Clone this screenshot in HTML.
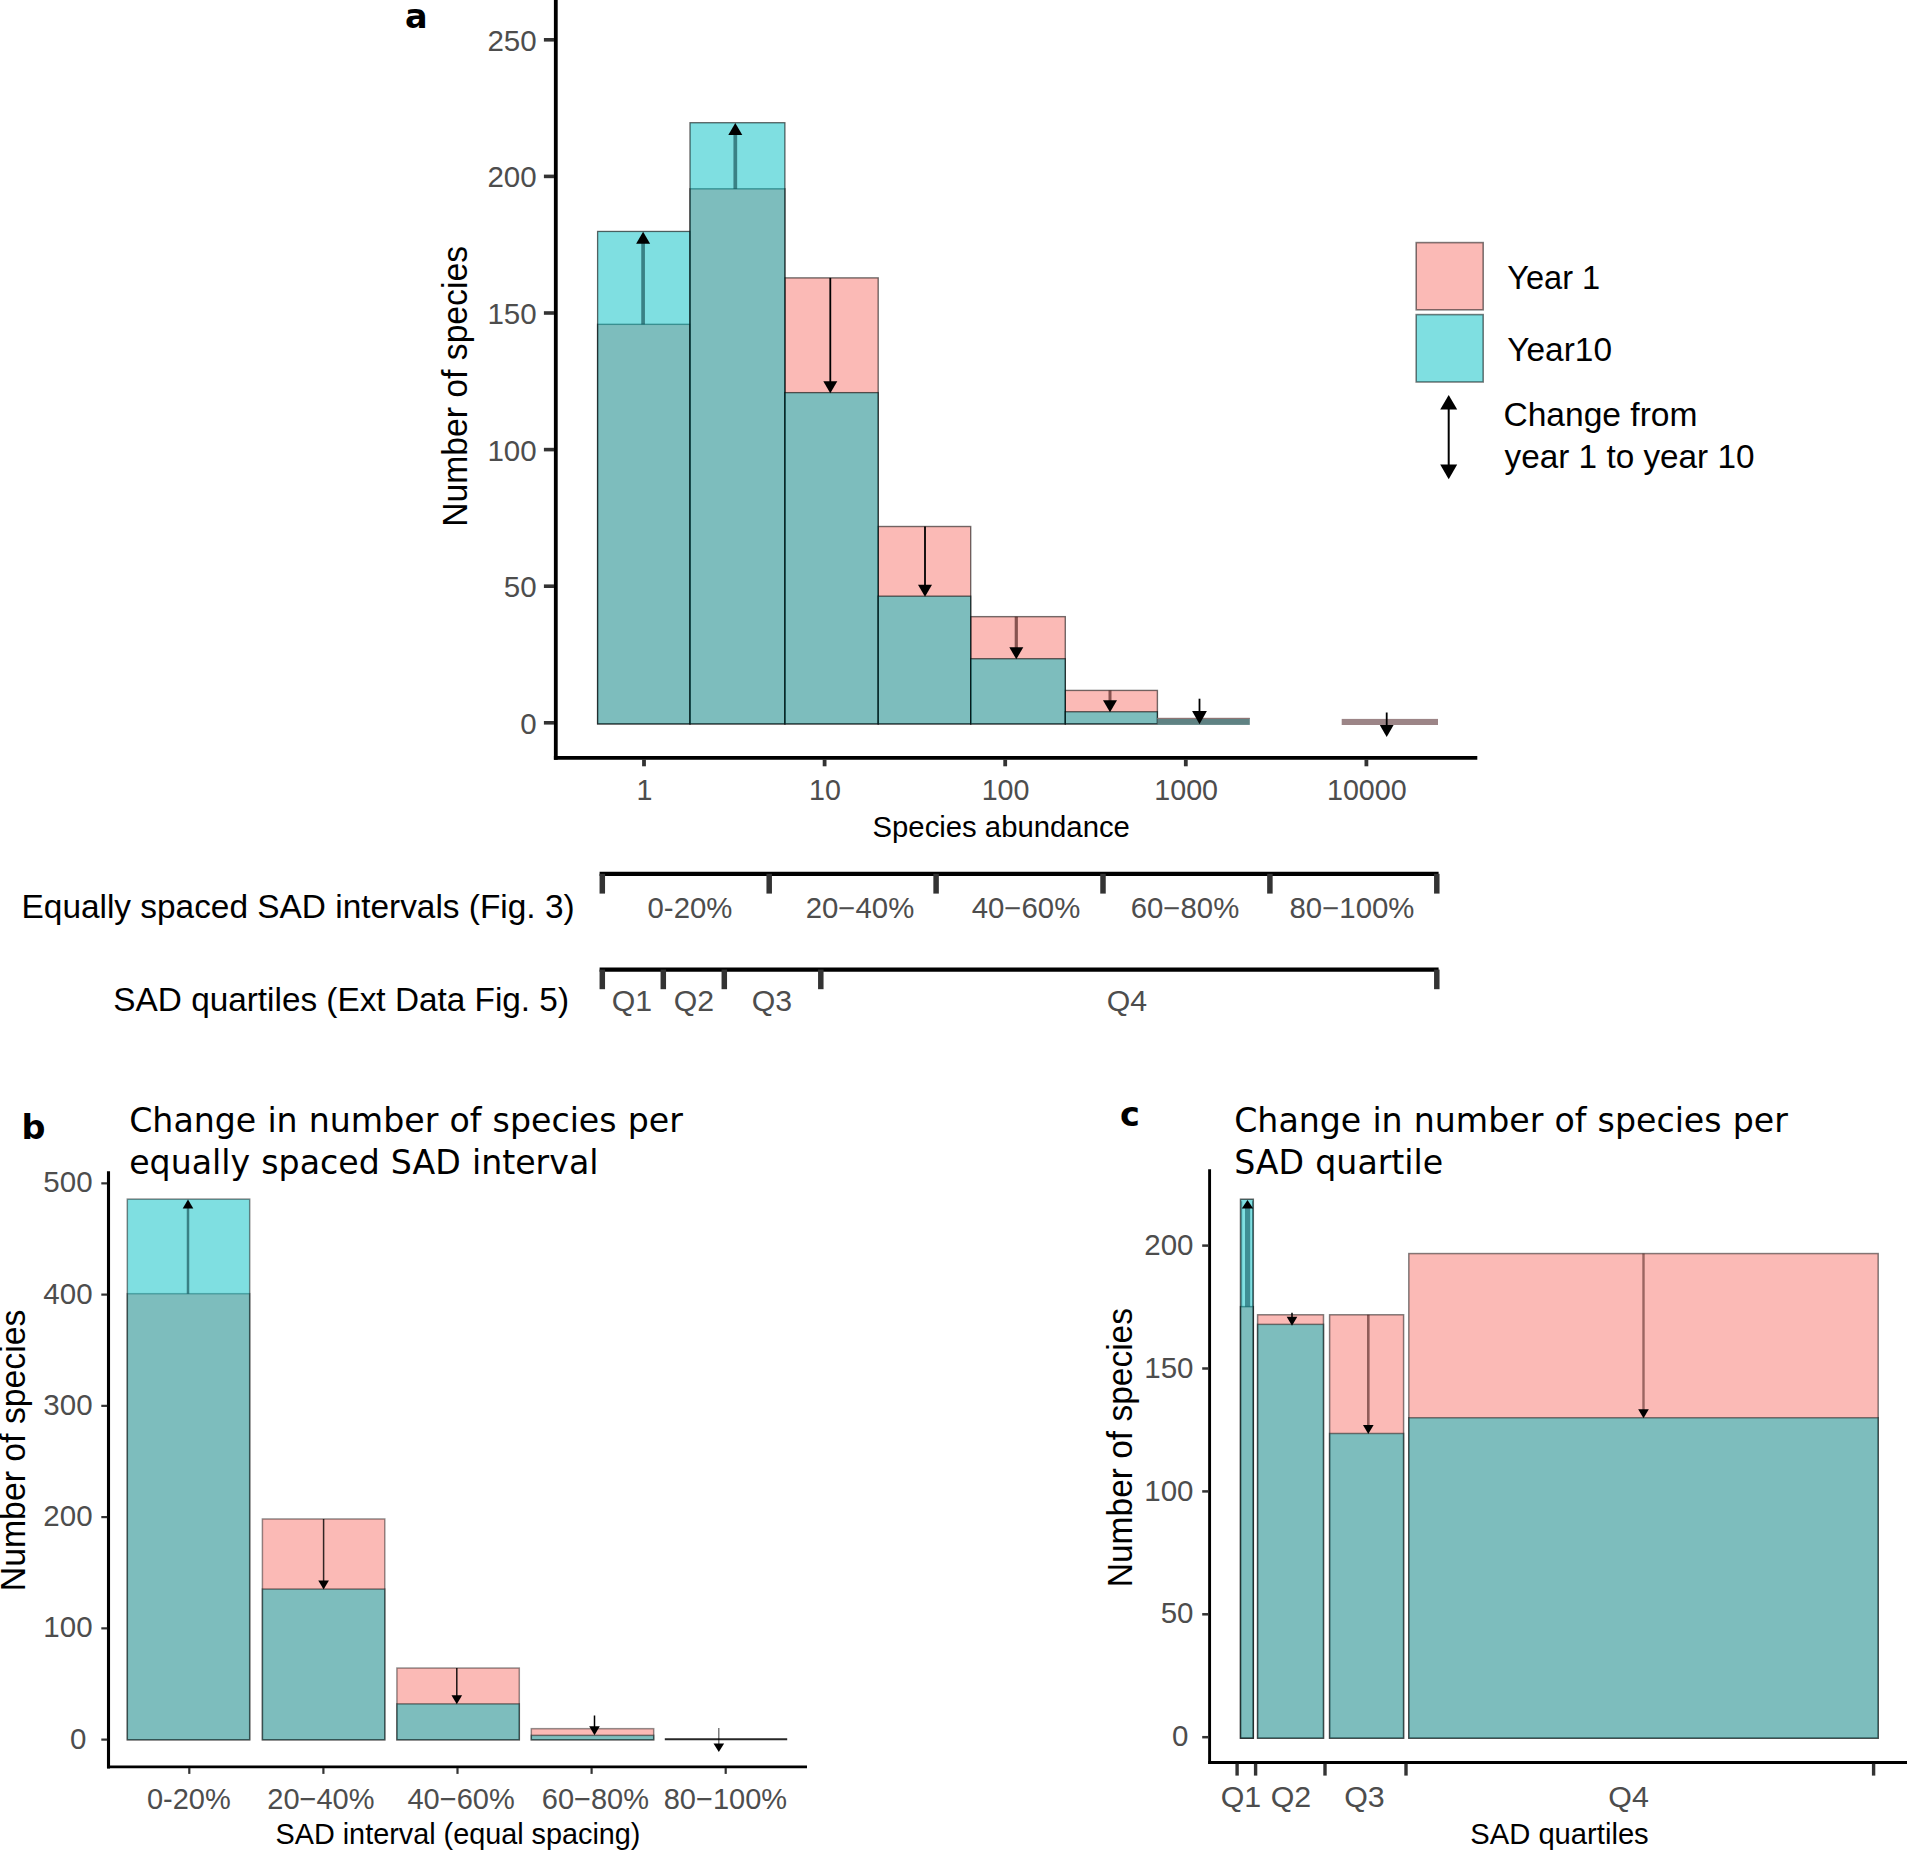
<!DOCTYPE html>
<html lang="en"><head><meta charset="utf-8"><title>Species abundance distribution change</title>
<style>html,body{margin:0;padding:0;background:#fff;}body{width:1921px;height:1850px;overflow:hidden;}svg{display:block;}text{white-space:pre;}</style>
</head><body>
<svg width="1921" height="1850" viewBox="0 0 1921 1850">
<rect x="0" y="0" width="1921" height="1850" fill="#ffffff"/>
<g id="panel-a">
<rect x="597.60" y="324.33" width="92.40" height="399.57" fill="#F8766D" fill-opacity="0.5" stroke="#000" stroke-opacity="0.55" stroke-width="1.4"/>
<rect x="690.00" y="188.82" width="94.90" height="535.08" fill="#F8766D" fill-opacity="0.5" stroke="#000" stroke-opacity="0.55" stroke-width="1.4"/>
<rect x="784.90" y="277.88" width="93.30" height="446.02" fill="#F8766D" fill-opacity="0.5" stroke="#000" stroke-opacity="0.55" stroke-width="1.4"/>
<rect x="878.20" y="526.50" width="92.50" height="197.40" fill="#F8766D" fill-opacity="0.5" stroke="#000" stroke-opacity="0.55" stroke-width="1.4"/>
<rect x="970.70" y="616.65" width="94.60" height="107.25" fill="#F8766D" fill-opacity="0.5" stroke="#000" stroke-opacity="0.55" stroke-width="1.4"/>
<rect x="1065.30" y="690.42" width="92.10" height="33.48" fill="#F8766D" fill-opacity="0.5" stroke="#000" stroke-opacity="0.55" stroke-width="1.4"/>
<rect x="597.60" y="231.44" width="92.40" height="492.46" fill="#00BFC4" fill-opacity="0.5" stroke="#000" stroke-opacity="0.6" stroke-width="1.3"/>
<rect x="690.00" y="122.71" width="94.90" height="601.19" fill="#00BFC4" fill-opacity="0.5" stroke="#000" stroke-opacity="0.6" stroke-width="1.3"/>
<rect x="784.90" y="392.63" width="93.30" height="331.27" fill="#00BFC4" fill-opacity="0.5" stroke="#000" stroke-opacity="0.6" stroke-width="1.3"/>
<rect x="878.20" y="596.16" width="92.50" height="127.74" fill="#00BFC4" fill-opacity="0.5" stroke="#000" stroke-opacity="0.6" stroke-width="1.3"/>
<rect x="970.70" y="658.72" width="94.60" height="65.18" fill="#00BFC4" fill-opacity="0.5" stroke="#000" stroke-opacity="0.6" stroke-width="1.3"/>
<rect x="1065.30" y="711.73" width="92.10" height="12.17" fill="#00BFC4" fill-opacity="0.5" stroke="#000" stroke-opacity="0.6" stroke-width="1.3"/>
<rect x="1157.4" y="718.2" width="92.4" height="6.7" fill="#5f8283"/>
<rect x="1157.4" y="717.8" width="92.4" height="1.2" fill="#8d7474"/>
<rect x="1341.7" y="718.9" width="96.3" height="6.1" fill="#9c8587"/>
<line x1="643.10" y1="324.33" x2="643.10" y2="237.74" stroke="#00333a" stroke-width="3.7" stroke-opacity="0.55" stroke-linecap="butt"/>
<polygon points="636.10,243.74 650.10,243.74 643.10,231.74" fill="#000" fill-opacity="1.0"/>
<line x1="735.30" y1="188.82" x2="735.30" y2="129.01" stroke="#00333a" stroke-width="3.7" stroke-opacity="0.55" stroke-linecap="butt"/>
<polygon points="728.30,135.01 742.30,135.01 735.30,123.01" fill="#000" fill-opacity="1.0"/>
<line x1="830.30" y1="277.88" x2="830.30" y2="387.13" stroke="#000" stroke-width="1.8" stroke-opacity="1.0" stroke-linecap="butt"/>
<polygon points="823.30,381.13 837.30,381.13 830.30,393.13" fill="#000" fill-opacity="1.0"/>
<line x1="925.00" y1="526.50" x2="925.00" y2="590.66" stroke="#000" stroke-width="1.8" stroke-opacity="1.0" stroke-linecap="butt"/>
<polygon points="918.00,584.66 932.00,584.66 925.00,596.66" fill="#000" fill-opacity="1.0"/>
<line x1="1016.30" y1="616.65" x2="1016.30" y2="653.22" stroke="#3a0f0c" stroke-width="3.2" stroke-opacity="0.6" stroke-linecap="butt"/>
<polygon points="1009.30,647.22 1023.30,647.22 1016.30,659.22" fill="#000" fill-opacity="1.0"/>
<line x1="1110.00" y1="690.42" x2="1110.00" y2="706.23" stroke="#3a0f0c" stroke-width="3.0" stroke-opacity="0.6" stroke-linecap="butt"/>
<polygon points="1103.00,700.23 1117.00,700.23 1110.00,712.23" fill="#000" fill-opacity="1.0"/>
<line x1="1199.50" y1="698.70" x2="1199.50" y2="717.60" stroke="#000" stroke-width="1.8" stroke-opacity="1.0" stroke-linecap="butt"/>
<polygon points="1192.10,711.00 1206.90,711.00 1199.50,724.20" fill="#000" fill-opacity="1.0"/>
<line x1="1386.70" y1="712.50" x2="1386.70" y2="731.00" stroke="#000" stroke-width="1.8" stroke-opacity="1.0" stroke-linecap="butt"/>
<polygon points="1379.80,725.00 1393.60,725.00 1386.70,737.00" fill="#000" fill-opacity="1.0"/>
<line x1="555.80" y1="0.00" x2="555.80" y2="759.80" stroke="#000" stroke-width="3.8" stroke-opacity="1" stroke-linecap="butt"/>
<line x1="553.90" y1="757.90" x2="1477.30" y2="757.90" stroke="#000" stroke-width="3.8" stroke-opacity="1" stroke-linecap="butt"/>
<line x1="543.90" y1="722.80" x2="554.00" y2="722.80" stroke="#333333" stroke-width="3.6" stroke-opacity="1" stroke-linecap="butt"/>
<text x="536.70" y="733.70" font-family='"Liberation Sans", Arial, Helvetica, sans-serif' font-size="29.5" fill="#4d4d4d" text-anchor="end" font-weight="normal">0</text>
<line x1="543.90" y1="586.20" x2="554.00" y2="586.20" stroke="#333333" stroke-width="3.6" stroke-opacity="1" stroke-linecap="butt"/>
<text x="536.70" y="597.10" font-family='"Liberation Sans", Arial, Helvetica, sans-serif' font-size="29.5" fill="#4d4d4d" text-anchor="end" font-weight="normal">50</text>
<line x1="543.90" y1="449.60" x2="554.00" y2="449.60" stroke="#333333" stroke-width="3.6" stroke-opacity="1" stroke-linecap="butt"/>
<text x="536.70" y="460.50" font-family='"Liberation Sans", Arial, Helvetica, sans-serif' font-size="29.5" fill="#4d4d4d" text-anchor="end" font-weight="normal">100</text>
<line x1="543.90" y1="313.00" x2="554.00" y2="313.00" stroke="#333333" stroke-width="3.6" stroke-opacity="1" stroke-linecap="butt"/>
<text x="536.70" y="323.90" font-family='"Liberation Sans", Arial, Helvetica, sans-serif' font-size="29.5" fill="#4d4d4d" text-anchor="end" font-weight="normal">150</text>
<line x1="543.90" y1="176.40" x2="554.00" y2="176.40" stroke="#333333" stroke-width="3.6" stroke-opacity="1" stroke-linecap="butt"/>
<text x="536.70" y="187.30" font-family='"Liberation Sans", Arial, Helvetica, sans-serif' font-size="29.5" fill="#4d4d4d" text-anchor="end" font-weight="normal">200</text>
<line x1="543.90" y1="39.80" x2="554.00" y2="39.80" stroke="#333333" stroke-width="3.6" stroke-opacity="1" stroke-linecap="butt"/>
<text x="536.70" y="50.70" font-family='"Liberation Sans", Arial, Helvetica, sans-serif' font-size="29.5" fill="#4d4d4d" text-anchor="end" font-weight="normal">250</text>
<line x1="644.00" y1="759.40" x2="644.00" y2="766.30" stroke="#333333" stroke-width="3.8" stroke-opacity="1" stroke-linecap="butt"/>
<text x="644.40" y="799.70" font-family='"Liberation Sans", Arial, Helvetica, sans-serif' font-size="29.4" fill="#4d4d4d" text-anchor="middle" font-weight="normal" transform="translate(644.40 799.70) scale(0.975 1.0) translate(-644.40 -799.70)">1</text>
<line x1="824.60" y1="759.40" x2="824.60" y2="766.30" stroke="#333333" stroke-width="3.8" stroke-opacity="1" stroke-linecap="butt"/>
<text x="825.00" y="799.70" font-family='"Liberation Sans", Arial, Helvetica, sans-serif' font-size="29.4" fill="#4d4d4d" text-anchor="middle" font-weight="normal" transform="translate(825.00 799.70) scale(0.975 1.0) translate(-825.00 -799.70)">10</text>
<line x1="1005.20" y1="759.40" x2="1005.20" y2="766.30" stroke="#333333" stroke-width="3.8" stroke-opacity="1" stroke-linecap="butt"/>
<text x="1005.60" y="799.70" font-family='"Liberation Sans", Arial, Helvetica, sans-serif' font-size="29.4" fill="#4d4d4d" text-anchor="middle" font-weight="normal" transform="translate(1005.60 799.70) scale(0.975 1.0) translate(-1005.60 -799.70)">100</text>
<line x1="1185.80" y1="759.40" x2="1185.80" y2="766.30" stroke="#333333" stroke-width="3.8" stroke-opacity="1" stroke-linecap="butt"/>
<text x="1186.20" y="799.70" font-family='"Liberation Sans", Arial, Helvetica, sans-serif' font-size="29.4" fill="#4d4d4d" text-anchor="middle" font-weight="normal" transform="translate(1186.20 799.70) scale(0.975 1.0) translate(-1186.20 -799.70)">1000</text>
<line x1="1366.40" y1="759.40" x2="1366.40" y2="766.30" stroke="#333333" stroke-width="3.8" stroke-opacity="1" stroke-linecap="butt"/>
<text x="1366.80" y="799.70" font-family='"Liberation Sans", Arial, Helvetica, sans-serif' font-size="29.4" fill="#4d4d4d" text-anchor="middle" font-weight="normal" transform="translate(1366.80 799.70) scale(0.975 1.0) translate(-1366.80 -799.70)">10000</text>
<text x="1001.20" y="837.00" font-family='"Liberation Sans", Arial, Helvetica, sans-serif' font-size="29.3" fill="#000" text-anchor="middle" font-weight="normal">Species abundance</text>
<text x="467.20" y="386.40" font-family='"Liberation Sans", Arial, Helvetica, sans-serif' font-size="33.7" fill="#000" text-anchor="middle" font-weight="normal" transform="rotate(-90 467.20 386.40) translate(467.20 386.40) scale(1.0 1.035) translate(-467.20 -386.40)">Number of species</text>
<text x="405.10" y="27.60" font-family='"DejaVu Sans", Verdana, sans-serif' font-size="33.5" fill="#000" text-anchor="start" font-weight="bold">a</text>
<rect x="1416.2" y="242.6" width="67" height="67.2" fill="#F8766D" fill-opacity="0.5" stroke="#000" stroke-opacity="0.5" stroke-width="1.6"/>
<rect x="1416.2" y="314.6" width="67" height="67.4" fill="#00BFC4" fill-opacity="0.5" stroke="#000" stroke-opacity="0.5" stroke-width="1.6"/>
<text x="1507.30" y="289.40" font-family='"Liberation Sans", Arial, Helvetica, sans-serif' font-size="33.3" fill="#000" text-anchor="start" font-weight="normal" transform="translate(1507.30 289.40) scale(0.978 1.0) translate(-1507.30 -289.40)">Year 1</text>
<text x="1507.30" y="360.60" font-family='"Liberation Sans", Arial, Helvetica, sans-serif' font-size="33.3" fill="#000" text-anchor="start" font-weight="normal" transform="translate(1507.30 360.60) scale(1.004 1.0) translate(-1507.30 -360.60)">Year10</text>
<text x="1503.40" y="426.30" font-family='"Liberation Sans", Arial, Helvetica, sans-serif' font-size="33.6" fill="#000" text-anchor="start" font-weight="normal">Change from</text>
<text x="1504.60" y="468.00" font-family='"Liberation Sans", Arial, Helvetica, sans-serif' font-size="33.3" fill="#000" text-anchor="start" font-weight="normal">year 1 to year 10</text>
<line x1="1448.70" y1="404.00" x2="1448.70" y2="470.00" stroke="#000" stroke-width="2.0" stroke-opacity="1" stroke-linecap="butt"/>
<polygon points="1440.2,409.6 1457.2,409.6 1448.7,394.9" fill="#000"/>
<polygon points="1440.2,464.6 1457.2,464.6 1448.7,479.3" fill="#000"/>
</g>
<g id="brackets">
<text x="574.60" y="917.90" font-family='"Liberation Sans", Arial, Helvetica, sans-serif' font-size="33.4" fill="#000" text-anchor="end" font-weight="normal">Equally spaced SAD intervals (Fig. 3)</text>
<text x="569.00" y="1010.90" font-family='"Liberation Sans", Arial, Helvetica, sans-serif' font-size="33.35" fill="#000" text-anchor="end" font-weight="normal">SAD quartiles (Ext Data Fig. 5)</text>
<line x1="599.60" y1="873.80" x2="1438.60" y2="873.80" stroke="#000" stroke-width="4.2" stroke-opacity="1" stroke-linecap="butt"/>
<line x1="602.30" y1="873.80" x2="602.30" y2="893.60" stroke="#333333" stroke-width="5.5" stroke-opacity="1" stroke-linecap="butt"/>
<line x1="769.20" y1="873.80" x2="769.20" y2="893.60" stroke="#333333" stroke-width="5.5" stroke-opacity="1" stroke-linecap="butt"/>
<line x1="936.10" y1="873.80" x2="936.10" y2="893.60" stroke="#333333" stroke-width="5.5" stroke-opacity="1" stroke-linecap="butt"/>
<line x1="1103.00" y1="873.80" x2="1103.00" y2="893.60" stroke="#333333" stroke-width="5.5" stroke-opacity="1" stroke-linecap="butt"/>
<line x1="1269.90" y1="873.80" x2="1269.90" y2="893.60" stroke="#333333" stroke-width="5.5" stroke-opacity="1" stroke-linecap="butt"/>
<line x1="1436.80" y1="873.80" x2="1436.80" y2="893.60" stroke="#333333" stroke-width="5.5" stroke-opacity="1" stroke-linecap="butt"/>
<text x="690.00" y="918.00" font-family='"Liberation Sans", Arial, Helvetica, sans-serif' font-size="28.8" fill="#4d4d4d" text-anchor="middle" font-weight="normal" transform="translate(690.00 918.00) scale(1.02 1.0) translate(-690.00 -918.00)">0-20%</text>
<text x="860.00" y="918.00" font-family='"Liberation Sans", Arial, Helvetica, sans-serif' font-size="28.8" fill="#4d4d4d" text-anchor="middle" font-weight="normal" transform="translate(860.00 918.00) scale(1.02 1.0) translate(-860.00 -918.00)">20−40%</text>
<text x="1026.00" y="918.00" font-family='"Liberation Sans", Arial, Helvetica, sans-serif' font-size="28.8" fill="#4d4d4d" text-anchor="middle" font-weight="normal" transform="translate(1026.00 918.00) scale(1.02 1.0) translate(-1026.00 -918.00)">40−60%</text>
<text x="1185.00" y="918.00" font-family='"Liberation Sans", Arial, Helvetica, sans-serif' font-size="28.8" fill="#4d4d4d" text-anchor="middle" font-weight="normal" transform="translate(1185.00 918.00) scale(1.02 1.0) translate(-1185.00 -918.00)">60−80%</text>
<text x="1352.00" y="918.00" font-family='"Liberation Sans", Arial, Helvetica, sans-serif' font-size="28.8" fill="#4d4d4d" text-anchor="middle" font-weight="normal" transform="translate(1352.00 918.00) scale(1.02 1.0) translate(-1352.00 -918.00)">80−100%</text>
<line x1="599.60" y1="969.60" x2="1438.60" y2="969.60" stroke="#000" stroke-width="4.2" stroke-opacity="1" stroke-linecap="butt"/>
<line x1="602.30" y1="969.60" x2="602.30" y2="989.20" stroke="#333333" stroke-width="5.5" stroke-opacity="1" stroke-linecap="butt"/>
<line x1="663.30" y1="969.60" x2="663.30" y2="989.20" stroke="#333333" stroke-width="5.5" stroke-opacity="1" stroke-linecap="butt"/>
<line x1="724.30" y1="969.60" x2="724.30" y2="989.20" stroke="#333333" stroke-width="5.5" stroke-opacity="1" stroke-linecap="butt"/>
<line x1="820.80" y1="969.60" x2="820.80" y2="989.20" stroke="#333333" stroke-width="5.5" stroke-opacity="1" stroke-linecap="butt"/>
<line x1="1436.80" y1="969.60" x2="1436.80" y2="989.20" stroke="#333333" stroke-width="5.5" stroke-opacity="1" stroke-linecap="butt"/>
<text x="632.00" y="1010.80" font-family='"Liberation Sans", Arial, Helvetica, sans-serif' font-size="28.8" fill="#4d4d4d" text-anchor="middle" font-weight="normal" transform="translate(632.00 1010.80) scale(1.05 1.0) translate(-632.00 -1010.80)">Q1</text>
<text x="694.00" y="1010.80" font-family='"Liberation Sans", Arial, Helvetica, sans-serif' font-size="28.8" fill="#4d4d4d" text-anchor="middle" font-weight="normal" transform="translate(694.00 1010.80) scale(1.05 1.0) translate(-694.00 -1010.80)">Q2</text>
<text x="772.00" y="1010.80" font-family='"Liberation Sans", Arial, Helvetica, sans-serif' font-size="28.8" fill="#4d4d4d" text-anchor="middle" font-weight="normal" transform="translate(772.00 1010.80) scale(1.05 1.0) translate(-772.00 -1010.80)">Q3</text>
<text x="1127.00" y="1010.80" font-family='"Liberation Sans", Arial, Helvetica, sans-serif' font-size="28.8" fill="#4d4d4d" text-anchor="middle" font-weight="normal" transform="translate(1127.00 1010.80) scale(1.05 1.0) translate(-1127.00 -1010.80)">Q4</text>
</g>
<g id="panel-b">
<rect x="127.30" y="1293.69" width="122.40" height="446.11" fill="#F8766D" fill-opacity="0.5" stroke="#000" stroke-opacity="0.42" stroke-width="1.5"/>
<rect x="262.40" y="1518.97" width="122.40" height="220.83" fill="#F8766D" fill-opacity="0.5" stroke="#000" stroke-opacity="0.42" stroke-width="1.5"/>
<rect x="396.90" y="1668.04" width="122.40" height="71.76" fill="#F8766D" fill-opacity="0.5" stroke="#000" stroke-opacity="0.42" stroke-width="1.5"/>
<rect x="531.30" y="1728.67" width="122.40" height="11.12" fill="#F8766D" fill-opacity="0.5" stroke="#000" stroke-opacity="0.42" stroke-width="1.5"/>
<rect x="127.30" y="1199.12" width="122.40" height="540.67" fill="#00BFC4" fill-opacity="0.5" stroke="#000" stroke-opacity="0.45" stroke-width="1.5"/>
<rect x="262.40" y="1589.06" width="122.40" height="150.74" fill="#00BFC4" fill-opacity="0.5" stroke="#000" stroke-opacity="0.45" stroke-width="1.5"/>
<rect x="396.90" y="1703.87" width="122.40" height="35.93" fill="#00BFC4" fill-opacity="0.5" stroke="#000" stroke-opacity="0.45" stroke-width="1.5"/>
<rect x="531.30" y="1735.35" width="122.40" height="4.45" fill="#00BFC4" fill-opacity="0.5" stroke="#000" stroke-opacity="0.45" stroke-width="1.5"/>
<line x1="664.80" y1="1739.30" x2="787.20" y2="1739.30" stroke="#000" stroke-width="2.0" stroke-opacity="0.85" stroke-linecap="butt"/>
<line x1="188.00" y1="1293.69" x2="188.00" y2="1204.12" stroke="#00333a" stroke-width="2.5" stroke-opacity="0.55" stroke-linecap="butt"/>
<polygon points="182.70,1208.62 193.30,1208.62 188.00,1199.62" fill="#000" fill-opacity="1.0"/>
<line x1="323.60" y1="1518.97" x2="323.60" y2="1585.06" stroke="#000" stroke-width="1.5" stroke-opacity="0.8" stroke-linecap="butt"/>
<polygon points="318.30,1580.56 328.90,1580.56 323.60,1589.56" fill="#000" fill-opacity="1.0"/>
<line x1="456.80" y1="1668.04" x2="456.80" y2="1699.87" stroke="#000" stroke-width="1.5" stroke-opacity="0.9" stroke-linecap="butt"/>
<polygon points="451.50,1695.37 462.10,1695.37 456.80,1704.37" fill="#000" fill-opacity="1.0"/>
<line x1="594.50" y1="1715.50" x2="594.50" y2="1730.80" stroke="#000" stroke-width="1.5" stroke-opacity="1.0" stroke-linecap="butt"/>
<polygon points="589.20,1726.30 599.80,1726.30 594.50,1735.30" fill="#000" fill-opacity="1.0"/>
<line x1="718.80" y1="1728.00" x2="718.80" y2="1747.75" stroke="#000" stroke-width="1.3" stroke-opacity="0.6" stroke-linecap="butt"/>
<polygon points="713.50,1743.50 724.10,1743.50 718.80,1752.00" fill="#000" fill-opacity="1.0"/>
<line x1="108.50" y1="1171.20" x2="108.50" y2="1768.40" stroke="#000" stroke-width="3.1" stroke-opacity="1" stroke-linecap="butt"/>
<line x1="107.00" y1="1766.90" x2="807.00" y2="1766.90" stroke="#000" stroke-width="2.9" stroke-opacity="1" stroke-linecap="butt"/>
<line x1="101.30" y1="1739.60" x2="107.20" y2="1739.60" stroke="#333333" stroke-width="2.2" stroke-opacity="1" stroke-linecap="butt"/>
<text x="86.40" y="1748.60" font-family='"Liberation Sans", Arial, Helvetica, sans-serif' font-size="29.5" fill="#4d4d4d" text-anchor="end" font-weight="normal">0</text>
<line x1="101.30" y1="1628.35" x2="107.20" y2="1628.35" stroke="#333333" stroke-width="2.2" stroke-opacity="1" stroke-linecap="butt"/>
<text x="92.60" y="1637.35" font-family='"Liberation Sans", Arial, Helvetica, sans-serif' font-size="29.5" fill="#4d4d4d" text-anchor="end" font-weight="normal">100</text>
<line x1="101.30" y1="1517.10" x2="107.20" y2="1517.10" stroke="#333333" stroke-width="2.2" stroke-opacity="1" stroke-linecap="butt"/>
<text x="92.60" y="1526.10" font-family='"Liberation Sans", Arial, Helvetica, sans-serif' font-size="29.5" fill="#4d4d4d" text-anchor="end" font-weight="normal">200</text>
<line x1="101.30" y1="1405.85" x2="107.20" y2="1405.85" stroke="#333333" stroke-width="2.2" stroke-opacity="1" stroke-linecap="butt"/>
<text x="92.60" y="1414.85" font-family='"Liberation Sans", Arial, Helvetica, sans-serif' font-size="29.5" fill="#4d4d4d" text-anchor="end" font-weight="normal">300</text>
<line x1="101.30" y1="1294.60" x2="107.20" y2="1294.60" stroke="#333333" stroke-width="2.2" stroke-opacity="1" stroke-linecap="butt"/>
<text x="92.60" y="1303.60" font-family='"Liberation Sans", Arial, Helvetica, sans-serif' font-size="29.5" fill="#4d4d4d" text-anchor="end" font-weight="normal">400</text>
<line x1="101.30" y1="1183.35" x2="107.20" y2="1183.35" stroke="#333333" stroke-width="2.2" stroke-opacity="1" stroke-linecap="butt"/>
<text x="92.60" y="1192.35" font-family='"Liberation Sans", Arial, Helvetica, sans-serif' font-size="29.5" fill="#4d4d4d" text-anchor="end" font-weight="normal">500</text>
<line x1="189.30" y1="1768.00" x2="189.30" y2="1773.90" stroke="#333333" stroke-width="2.2" stroke-opacity="1" stroke-linecap="butt"/>
<line x1="323.40" y1="1768.00" x2="323.40" y2="1773.90" stroke="#333333" stroke-width="2.2" stroke-opacity="1" stroke-linecap="butt"/>
<line x1="457.50" y1="1768.00" x2="457.50" y2="1773.90" stroke="#333333" stroke-width="2.2" stroke-opacity="1" stroke-linecap="butt"/>
<line x1="591.60" y1="1768.00" x2="591.60" y2="1773.90" stroke="#333333" stroke-width="2.2" stroke-opacity="1" stroke-linecap="butt"/>
<line x1="725.70" y1="1768.00" x2="725.70" y2="1773.90" stroke="#333333" stroke-width="2.2" stroke-opacity="1" stroke-linecap="butt"/>
<text x="188.80" y="1809.10" font-family='"Liberation Sans", Arial, Helvetica, sans-serif' font-size="29.0" fill="#4d4d4d" text-anchor="middle" font-weight="normal">0-20%</text>
<text x="320.90" y="1809.10" font-family='"Liberation Sans", Arial, Helvetica, sans-serif' font-size="29.0" fill="#4d4d4d" text-anchor="middle" font-weight="normal">20−40%</text>
<text x="461.10" y="1809.10" font-family='"Liberation Sans", Arial, Helvetica, sans-serif' font-size="29.0" fill="#4d4d4d" text-anchor="middle" font-weight="normal">40−60%</text>
<text x="595.40" y="1809.10" font-family='"Liberation Sans", Arial, Helvetica, sans-serif' font-size="29.0" fill="#4d4d4d" text-anchor="middle" font-weight="normal">60−80%</text>
<text x="725.40" y="1809.10" font-family='"Liberation Sans", Arial, Helvetica, sans-serif' font-size="29.0" fill="#4d4d4d" text-anchor="middle" font-weight="normal">80−100%</text>
<text x="458.00" y="1843.90" font-family='"Liberation Sans", Arial, Helvetica, sans-serif' font-size="28.8" fill="#000" text-anchor="middle" font-weight="normal">SAD interval (equal spacing)</text>
<text x="24.80" y="1450.40" font-family='"Liberation Sans", Arial, Helvetica, sans-serif' font-size="33.8" fill="#000" text-anchor="middle" font-weight="normal" transform="rotate(-90 24.80 1450.40) translate(24.80 1450.40) scale(1.0 1.035) translate(-24.80 -1450.40)">Number of species</text>
<text x="129.20" y="1132.30" font-family='"DejaVu Sans", Verdana, sans-serif' font-size="33.2" fill="#000" text-anchor="start" font-weight="normal" word-spacing="0.6">Change in number of species per</text>
<text x="129.20" y="1174.10" font-family='"DejaVu Sans", Verdana, sans-serif' font-size="33.2" fill="#000" text-anchor="start" font-weight="normal" word-spacing="0.6">equally spaced SAD interval</text>
<text x="21.40" y="1138.70" font-family='"DejaVu Sans", Verdana, sans-serif' font-size="33.5" fill="#000" text-anchor="start" font-weight="bold">b</text>
</g>
<g id="panel-c">
<rect x="1240.50" y="1306.65" width="12.80" height="431.55" fill="#F8766D" fill-opacity="0.5" stroke="#000" stroke-opacity="0.55" stroke-width="1.5"/>
<rect x="1257.60" y="1314.76" width="65.90" height="423.44" fill="#F8766D" fill-opacity="0.5" stroke="#000" stroke-opacity="0.48" stroke-width="1.5"/>
<rect x="1329.60" y="1314.76" width="74.00" height="423.44" fill="#F8766D" fill-opacity="0.5" stroke="#000" stroke-opacity="0.48" stroke-width="1.5"/>
<rect x="1408.80" y="1253.56" width="469.40" height="484.64" fill="#F8766D" fill-opacity="0.5" stroke="#000" stroke-opacity="0.48" stroke-width="1.5"/>
<rect x="1240.50" y="1199.24" width="12.80" height="538.96" fill="#00BFC4" fill-opacity="0.5" stroke="#000" stroke-opacity="0.6" stroke-width="1.5"/>
<rect x="1257.60" y="1324.35" width="65.90" height="413.85" fill="#00BFC4" fill-opacity="0.5" stroke="#000" stroke-opacity="0.45" stroke-width="1.5"/>
<rect x="1329.60" y="1433.48" width="74.00" height="304.72" fill="#00BFC4" fill-opacity="0.5" stroke="#000" stroke-opacity="0.45" stroke-width="1.5"/>
<rect x="1408.80" y="1417.75" width="469.40" height="320.45" fill="#00BFC4" fill-opacity="0.5" stroke="#000" stroke-opacity="0.45" stroke-width="1.5"/>
<line x1="1247.60" y1="1306.65" x2="1247.60" y2="1207.24" stroke="#0a4b55" stroke-width="5.2" stroke-opacity="0.55" stroke-linecap="butt"/>
<line x1="1241.70" y1="1306.65" x2="1241.70" y2="1201.24" stroke="#0a4b55" stroke-width="1.0" stroke-opacity="0.5" stroke-linecap="butt"/>
<line x1="1252.60" y1="1306.65" x2="1252.60" y2="1201.24" stroke="#0a4b55" stroke-width="1.0" stroke-opacity="0.5" stroke-linecap="butt"/>
<polygon points="1241.8,1208.54 1253.2,1208.54 1247.5,1200.04" fill="#000"/>
<line x1="1292.00" y1="1312.76" x2="1292.00" y2="1321.35" stroke="#000" stroke-width="1.5" stroke-opacity="1.0" stroke-linecap="butt"/>
<polygon points="1286.70,1316.85 1297.30,1316.85 1292.00,1325.85" fill="#000" fill-opacity="1.0"/>
<line x1="1368.30" y1="1314.76" x2="1368.30" y2="1429.48" stroke="#3a0f0c" stroke-width="2.6" stroke-opacity="0.55" stroke-linecap="butt"/>
<polygon points="1363.00,1424.98 1373.60,1424.98 1368.30,1433.98" fill="#000" fill-opacity="1.0"/>
<line x1="1643.50" y1="1253.56" x2="1643.50" y2="1413.75" stroke="#3a0f0c" stroke-width="2.4" stroke-opacity="0.5" stroke-linecap="butt"/>
<polygon points="1638.20,1409.25 1648.80,1409.25 1643.50,1418.25" fill="#000" fill-opacity="1.0"/>
<line x1="1209.60" y1="1169.20" x2="1209.60" y2="1764.10" stroke="#000" stroke-width="2.9" stroke-opacity="1" stroke-linecap="butt"/>
<line x1="1208.30" y1="1762.60" x2="1907.00" y2="1762.60" stroke="#000" stroke-width="3.0" stroke-opacity="1" stroke-linecap="butt"/>
<line x1="1202.20" y1="1737.20" x2="1208.50" y2="1737.20" stroke="#333333" stroke-width="2.5" stroke-opacity="1" stroke-linecap="butt"/>
<text x="1188.40" y="1746.30" font-family='"Liberation Sans", Arial, Helvetica, sans-serif' font-size="29.5" fill="#4d4d4d" text-anchor="end" font-weight="normal">0</text>
<line x1="1202.20" y1="1614.30" x2="1208.50" y2="1614.30" stroke="#333333" stroke-width="2.5" stroke-opacity="1" stroke-linecap="butt"/>
<text x="1193.50" y="1623.40" font-family='"Liberation Sans", Arial, Helvetica, sans-serif' font-size="29.5" fill="#4d4d4d" text-anchor="end" font-weight="normal">50</text>
<line x1="1202.20" y1="1491.40" x2="1208.50" y2="1491.40" stroke="#333333" stroke-width="2.5" stroke-opacity="1" stroke-linecap="butt"/>
<text x="1193.50" y="1500.50" font-family='"Liberation Sans", Arial, Helvetica, sans-serif' font-size="29.5" fill="#4d4d4d" text-anchor="end" font-weight="normal">100</text>
<line x1="1202.20" y1="1368.50" x2="1208.50" y2="1368.50" stroke="#333333" stroke-width="2.5" stroke-opacity="1" stroke-linecap="butt"/>
<text x="1193.50" y="1377.60" font-family='"Liberation Sans", Arial, Helvetica, sans-serif' font-size="29.5" fill="#4d4d4d" text-anchor="end" font-weight="normal">150</text>
<line x1="1202.20" y1="1245.60" x2="1208.50" y2="1245.60" stroke="#333333" stroke-width="2.5" stroke-opacity="1" stroke-linecap="butt"/>
<text x="1193.50" y="1254.70" font-family='"Liberation Sans", Arial, Helvetica, sans-serif' font-size="29.5" fill="#4d4d4d" text-anchor="end" font-weight="normal">200</text>
<line x1="1237.10" y1="1763.80" x2="1237.10" y2="1775.60" stroke="#333333" stroke-width="3.4" stroke-opacity="1" stroke-linecap="butt"/>
<line x1="1255.60" y1="1763.80" x2="1255.60" y2="1775.60" stroke="#333333" stroke-width="3.4" stroke-opacity="1" stroke-linecap="butt"/>
<line x1="1325.00" y1="1763.80" x2="1325.00" y2="1775.60" stroke="#333333" stroke-width="3.4" stroke-opacity="1" stroke-linecap="butt"/>
<line x1="1406.00" y1="1763.80" x2="1406.00" y2="1775.60" stroke="#333333" stroke-width="3.4" stroke-opacity="1" stroke-linecap="butt"/>
<line x1="1873.60" y1="1763.80" x2="1873.60" y2="1775.60" stroke="#333333" stroke-width="3.4" stroke-opacity="1" stroke-linecap="butt"/>
<text x="1241.00" y="1807.10" font-family='"Liberation Sans", Arial, Helvetica, sans-serif' font-size="29.5" fill="#4d4d4d" text-anchor="middle" font-weight="normal" transform="translate(1241.00 1807.10) scale(1.03 1.0) translate(-1241.00 -1807.10)">Q1</text>
<text x="1291.00" y="1807.10" font-family='"Liberation Sans", Arial, Helvetica, sans-serif' font-size="29.5" fill="#4d4d4d" text-anchor="middle" font-weight="normal" transform="translate(1291.00 1807.10) scale(1.03 1.0) translate(-1291.00 -1807.10)">Q2</text>
<text x="1364.40" y="1807.10" font-family='"Liberation Sans", Arial, Helvetica, sans-serif' font-size="29.5" fill="#4d4d4d" text-anchor="middle" font-weight="normal" transform="translate(1364.40 1807.10) scale(1.03 1.0) translate(-1364.40 -1807.10)">Q3</text>
<text x="1628.60" y="1807.10" font-family='"Liberation Sans", Arial, Helvetica, sans-serif' font-size="29.5" fill="#4d4d4d" text-anchor="middle" font-weight="normal" transform="translate(1628.60 1807.10) scale(1.03 1.0) translate(-1628.60 -1807.10)">Q4</text>
<text x="1559.50" y="1843.60" font-family='"Liberation Sans", Arial, Helvetica, sans-serif' font-size="29.2" fill="#000" text-anchor="middle" font-weight="normal">SAD quartiles</text>
<text x="1132.00" y="1447.60" font-family='"Liberation Sans", Arial, Helvetica, sans-serif' font-size="33.5" fill="#000" text-anchor="middle" font-weight="normal" transform="rotate(-90 1132.00 1447.60) translate(1132.00 1447.60) scale(1.0 1.035) translate(-1132.00 -1447.60)">Number of species</text>
<text x="1234.20" y="1132.30" font-family='"DejaVu Sans", Verdana, sans-serif' font-size="33.2" fill="#000" text-anchor="start" font-weight="normal" word-spacing="0.6">Change in number of species per</text>
<text x="1234.20" y="1174.10" font-family='"DejaVu Sans", Verdana, sans-serif' font-size="33.2" fill="#000" text-anchor="start" font-weight="normal" word-spacing="0.6">SAD quartile</text>
<text x="1119.90" y="1125.70" font-family='"DejaVu Sans", Verdana, sans-serif' font-size="33.5" fill="#000" text-anchor="start" font-weight="bold">c</text>
</g>
</svg>
</body></html>
